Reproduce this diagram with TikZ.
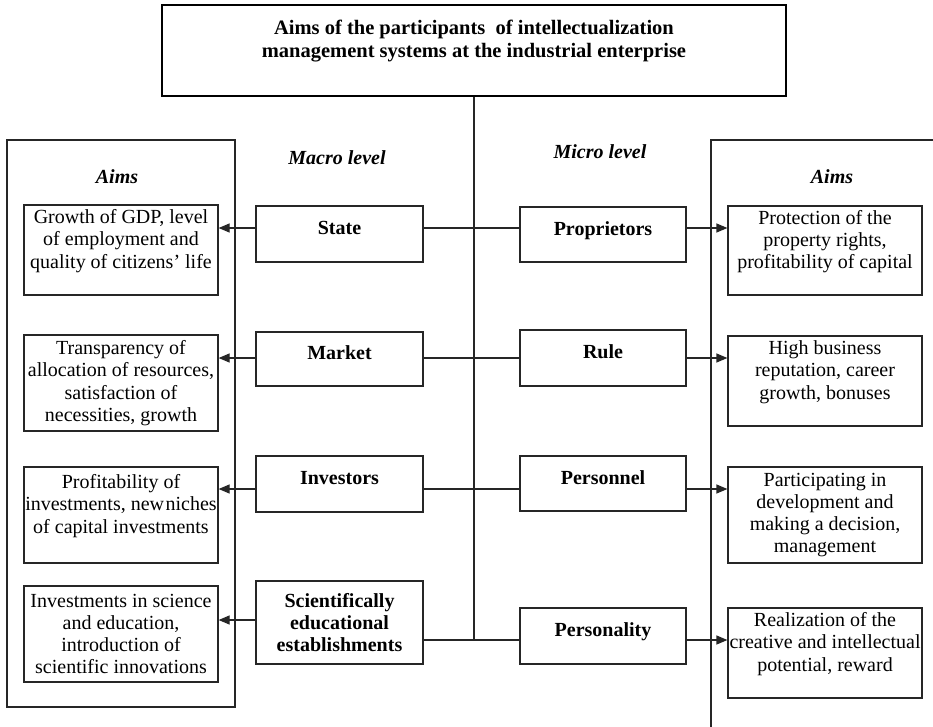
\documentclass[tikz,border=0pt]{standalone}
\usepackage{fontspec}
\setmainfont{Liberation Serif}
\usetikzlibrary{arrows.meta}
\begin{document}
\begin{tikzpicture}[x=1pt,y=-1pt,
  txt/.style={font=\fontsize{20}{22.3}\selectfont},
  every node/.style={txt, align=center, inner sep=0pt},
  box/.style={draw=black!85, line width=1.2pt, fill=white},
  aimbox/.style={box, minimum width=194pt},
  actorbox/.style={box, font=\fontsize{20}{22.3}\selectfont\bfseries},
  macrobox/.style={actorbox, minimum width=167pt},
  microbox/.style={actorbox, minimum width=166pt},
  onerow/.style={text height=14pt, text depth=13pt},
  heading/.style={font=\fontsize{20}{22.3}\selectfont\bfseries\itshape},
  link/.style={draw=black!85, line width=1.2pt},
  arrowlink/.style={link, -{Triangle[length=11pt,width=9pt]}},
  panel/.style={draw=black!85, line width=1.2pt}
]
\useasboundingbox (0,0) rectangle (933,727);

% title box
\node[draw=black, line width=2.8pt, minimum width=624pt, minimum height=91pt,
      font=\fontsize{20.5}{23}\selectfont\bfseries] (title) at (474,50.5)
  {Aims of the participants~ of intellectualization\\
   management systems at the industrial enterprise\\ ~};

% side panels
\draw[panel] (7,140) rectangle (235,707);
\draw[panel] (711,727) -- (711,140) -- (933,140);

% headings
\node[heading] (aimsL) at (117,177) {Aims};
\node[heading] (aimsR) at (832,177) {Aims};
\node[heading] (macro) at (337,158) {Macro level};
\node[heading] (micro) at (600,152) {Micro level};

% aims at the macro level
\node[aimbox, minimum height=90pt] (aimL1) at (121,250)
  {Growth of GDP, level\\ of employment and\\ quality of citizens’ life\\ ~};
\node[aimbox, minimum height=96pt] (aimL2) at (121,383)
  {Transparency of\\ allocation of resources,\\ satisfaction of\\ necessities, growth};
\node[aimbox, minimum height=96pt] (aimL3) at (121,515)
  {Profitability of\\ investments, new\hspace{1.5pt}niches\\ of capital investments\\ ~};
\node[aimbox, minimum height=96pt] (aimL4) at (121,634)
  {Investments in science\\ and education,\\ introduction of\\ scientific innovations};

% macro level participants
\node[macrobox, onerow, minimum height=56pt] (state) at (339.5,234) {State};
\node[macrobox, onerow, minimum height=54pt] (market) at (339.5,359) {Market};
\node[macrobox, onerow, minimum height=56pt] (investors) at (339.5,484) {Investors};
\node[macrobox, minimum height=83pt] (sci) at (339.5,622.5)
  {Scientifically\\ educational\\ establishments};

% micro level participants
\node[microbox, onerow, minimum height=55pt] (prop) at (603,234.5) {Proprietors};
\node[microbox, onerow, minimum height=56pt] (rule) at (603,358) {Rule};
\node[microbox, onerow, minimum height=55pt] (personnel) at (603,483.5) {Personnel};
\node[microbox, onerow, minimum height=56pt] (personality) at (603,636) {Personality};

% aims at the micro level
\node[aimbox, minimum height=89pt] (aimR1) at (825,250.5)
  {Protection of the\\ property rights,\\ profitability of capital\\ ~};
\node[aimbox, minimum height=90pt] (aimR2) at (825,381)
  {High business\\ reputation, career\\ growth, bonuses\\ ~};
\node[aimbox, minimum height=96pt] (aimR3) at (825,515)
  {Participating in\\ development and\\ making a decision,\\ management};
\node[aimbox, minimum height=90pt] (aimR4) at (825,653)
  {Realization of the\\ creative and intellectual\\ potential, reward\\ ~};

% connector rows
\coordinate (row1) at (0,228);
\coordinate (row2) at (0,358);
\coordinate (row3) at (0,489);
\coordinate (row4) at (0,640);
\coordinate (rowS) at (0,620);

% spine and cross links
\draw[link] (title.south) -- (title.south |- row4);
\draw[link] (state.east |- row1) -- (prop.west |- row1);
\draw[link] (market.east |- row2) -- (rule.west |- row2);
\draw[link] (investors.east |- row3) -- (personnel.west |- row3);
\draw[link] (sci.east |- row4) -- (personality.west |- row4);

% arrows to the aims
\draw[arrowlink] (state.west |- row1) -- (aimL1.east |- row1);
\draw[arrowlink] (market.west |- row2) -- (aimL2.east |- row2);
\draw[arrowlink] (investors.west |- row3) -- (aimL3.east |- row3);
\draw[arrowlink] (sci.west |- rowS) -- (aimL4.east |- rowS);
\draw[arrowlink] (prop.east |- row1) -- (aimR1.west |- row1);
\draw[arrowlink] (rule.east |- row2) -- (aimR2.west |- row2);
\draw[arrowlink] (personnel.east |- row3) -- (aimR3.west |- row3);
\draw[arrowlink] (personality.east |- row4) -- (aimR4.west |- row4);
\end{tikzpicture}
\end{document}
